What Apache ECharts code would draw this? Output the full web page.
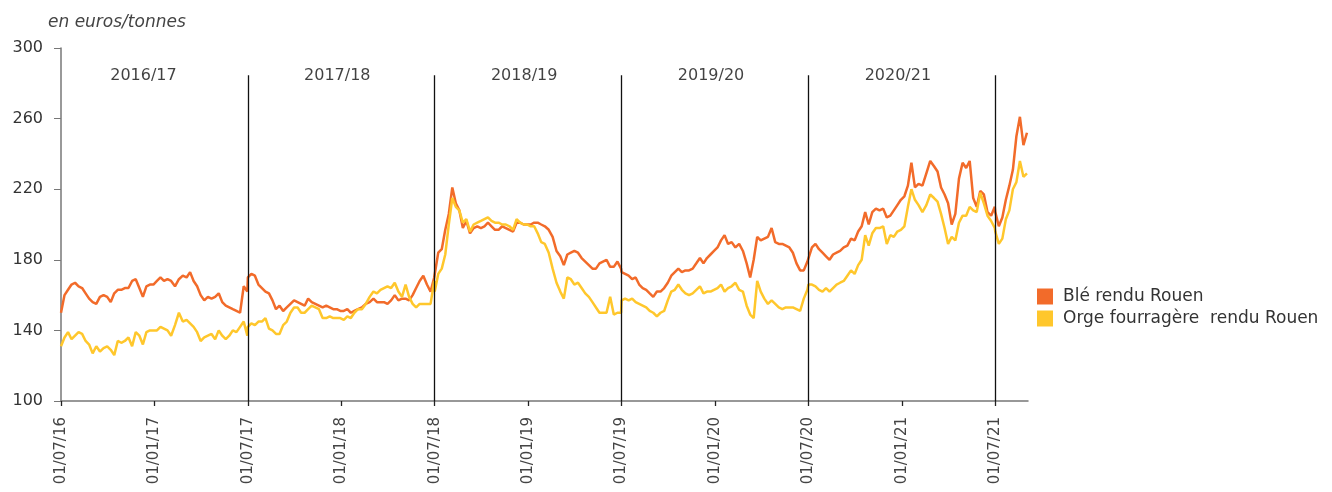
<!DOCTYPE html>
<html>
<head>
<meta charset="utf-8">
<script src="https://cdn.jsdelivr.net/npm/echarts@6/dist/echarts.min.js"></script>
<style>
  html, body { margin: 0; padding: 0; background: #fff; }
  #chart { width: 1332px; height: 492px; }
</style>
</head>
<body>
<div id="chart"></div>
<script>
// prix hebdomadaires (€/t), une valeur par semaine à partir du 1er juillet de chaque campagne
const seasonStarts = [2016, 2017, 2018, 2019, 2020, 2021]
const seasonLabels = ['2016/17', '2017/18', '2018/19', '2019/20', '2020/21']

const ble1617 = [150,160,163,166,167,165,164,161,158,156,155,159,160,159,156,161,163,163,164,164,168,169,164,159,165,166,166,168,170,168,169,168,165,169,171,170,173,168,165,160,157,159,158,159,161,156,154,153,152,151,150,165,162]
const ble1718 = [170,172,171,166,164,162,161,157,152,154,151,153,155,157,156,155,154,158,156,155,154,153,154,153,152,152,151,151,152,150,151,152,153,155,156,158,156,156,156,155,157,160,157,158,158,157,160,164,168,171,166,162,170]
const ble1819 = [169,184,186,197,206,221,212,208,198,202,195,198,199,198,199,201,199,197,197,199,198,197,196,201,201,200,200,200,201,201,200,199,197,193,185,182,177,183,184,185,184,181,179,177,175,175,178,179,180,176,176,179,175]
const ble1920 = [173,172,171,169,170,166,164,163,161,159,162,162,164,167,171,173,175,173,174,174,175,178,181,178,181,183,185,187,191,194,189,190,187,189,185,178,170,180,193,191,192,193,198,190,189,189,188,187,184,178,174,174,179]
const ble2021 = [178,187,189,186,184,182,180,183,184,185,187,188,192,191,196,199,207,200,207,209,208,209,204,205,208,211,214,216,222,235,221,223,222,229,236,233,230,221,217,212,200,206,226,235,232,236,215,210,219,217,207,205,210]
const ble2122 = [207,199,204,214,222,231,250,261,245,252]

const orge1617 = [131,136,139,135,137,139,138,134,132,127,131,128,130,131,129,126,134,133,134,136,131,139,137,132,139,140,140,140,142,141,140,137,143,150,145,146,144,142,139,134,136,137,138,135,140,137,135,137,140,139,142,145,137]
const orge1718 = [142,144,143,145,145,147,141,140,138,138,143,145,150,153,153,150,150,152,154,153,152,147,147,148,147,147,147,146,148,147,150,152,152,155,159,162,161,163,164,165,164,167,162,159,166,159,155,153,155,155,155,155,168]
const orge1819 = [162,172,175,183,200,215,210,208,201,203,196,200,201,202,203,204,202,201,201,200,200,199,197,203,201,200,200,199,199,195,190,189,184,175,167,162,158,170,169,166,167,164,161,159,156,153,150,150,150,159,149,150,150]
const orge1920 = [157,158,157,158,156,155,154,153,151,150,148,150,151,157,162,163,166,163,161,160,161,163,165,161,162,162,163,164,166,162,164,165,167,163,162,154,149,147,168,162,158,155,157,155,153,152,153,153,153,152,151,158,163]
const orge2021 = [166,166,165,163,162,164,162,164,166,167,168,171,174,172,177,180,194,188,195,198,198,199,189,194,193,196,197,199,210,220,214,211,207,211,217,215,213,206,198,189,193,191,201,205,205,210,208,207,218,212,205,202,198]
const orge2122 = [196,189,192,203,208,220,224,236,227,229]

const bleSeasons = [ble1617, ble1718, ble1819, ble1920, ble2021, ble2122]
const orgeSeasons = [orge1617, orge1718, orge1819, orge1920, orge2021, orge2122]

const ONE_WEEK = 7 * 24 * 3600 * 1000

// position en mois depuis le 01/07/16
function monthOffset(t) {
  const d = new Date(t)
  const y = d.getUTCFullYear()
  const m = d.getUTCMonth()
  const dim = new Date(Date.UTC(y, m + 1, 0)).getUTCDate()
  return (y - 2016) * 12 + (m - 6) + (d.getUTCDate() - 1) / dim
}

function buildSeries(seasons) {
  const out = []
  seasons.forEach((vals, s) => {
    const start = Date.UTC(seasonStarts[s], 6, 1)
    vals.forEach((v, i) => {
      out.push([monthOffset(start + i * ONE_WEEK), v])
    })
  })
  return out
}

function tickLabel(v) {
  const mm = (6 + v) % 12 === 6 ? '07' : '01'
  const yy = String(2016 + Math.floor((6 + v) / 12)).slice(2)
  return '01/' + mm + '/' + yy
}

const font = '"DejaVu Sans", sans-serif'
const myChart = echarts.init(document.getElementById('chart'))

myChart.setOption({
  animation: false,
  backgroundColor: '#fff',
  textStyle: { fontFamily: font },
  title: {
    text: 'en euros/tonnes',
    left: 43,
    top: 9,
    textStyle: { fontFamily: font, fontSize: 17, fontStyle: 'italic', fontWeight: 'normal', color: '#444' }
  },
  legend: {
    data: ['Blé rendu Rouen', 'Orge fourragère  rendu Rouen'],
    orient: 'vertical',
    left: 1032,
    top: 283,
    itemWidth: 16,
    itemHeight: 16,
    itemGap: 5,
    icon: 'rect',
    textStyle: { fontFamily: font, fontSize: 17, color: '#333', padding: [0, 0, 0, 5] }
  },
  grid: { left: 61, right: 304, top: 48, bottom: 91 },
  xAxis: {
    type: 'value',
    min: 0,
    max: 62.1,
    interval: 6,
    axisLine: { lineStyle: { color: '#777', width: 1.5 } },
    axisTick: { length: 5, lineStyle: { color: '#222', width: 1.3 } },
    splitLine: { show: false },
    axisLabel: {
      rotate: 90,
      margin: 16,
      fontSize: 15,
      color: '#444',
      showMaxLabel: false,
      formatter: tickLabel
    }
  },
  yAxis: {
    type: 'value',
    min: 100,
    max: 300,
    interval: 40,
    axisLine: { show: true, lineStyle: { color: '#777', width: 1.5 } },
    axisTick: { show: true, length: 7, lineStyle: { color: '#777' } },
    splitLine: { show: false },
    axisLabel: { margin: 18, fontSize: 16, color: '#333' }
  },
  series: [
    {
      name: 'Blé rendu Rouen',
      type: 'line',
      data: buildSeries(bleSeasons),
      showSymbol: false,
      color: '#F26B2A',
      lineStyle: { width: 2.5 },
      z: 2
    },
    {
      name: 'Orge fourragère  rendu Rouen',
      type: 'line',
      data: buildSeries(orgeSeasons),
      showSymbol: false,
      color: '#FFC72C',
      lineStyle: { width: 2.5 },
      z: 3
    },
    {
      name: 'campagnes',
      type: 'scatter',
      data: seasonLabels.map((s, i) => ({
        value: [6 + 12 * i, 284],
        label: { offset: [i === 0 ? -11 : -4, 0] }
      })),
      symbolSize: 1,
      itemStyle: { color: 'transparent' },
      silent: true,
      label: {
        show: true,
        position: 'inside',
        fontSize: 16,
        color: '#111',
        formatter: p => seasonLabels[p.dataIndex]
      },
      markLine: {
        silent: true,
        symbol: 'none',
        label: { show: false },
        lineStyle: { color: '#111', width: 1.3, type: 'solid' },
        data: [1, 2, 3, 4, 5].map(k => [
          { coord: [12 * k, 284.5] },
          { coord: [12 * k, 100] }
        ])
      },
      z: 1
    }
  ]
})
</script>
</body>
</html>
